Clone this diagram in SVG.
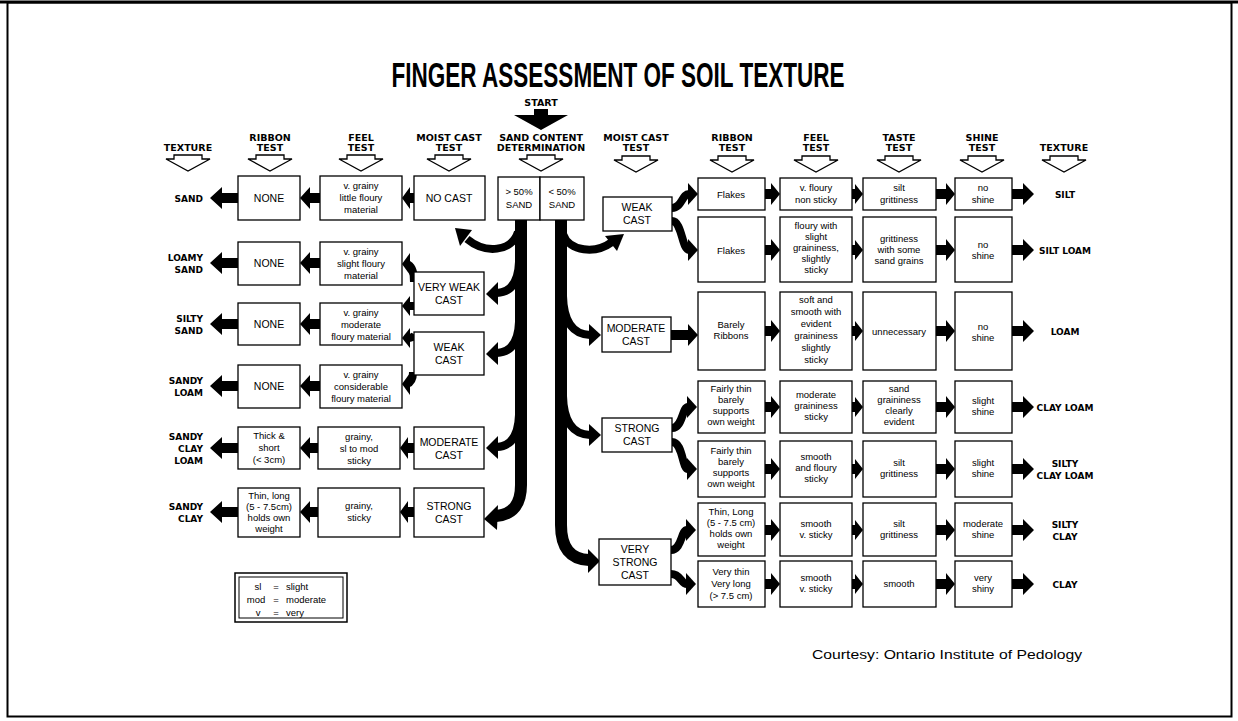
<svg xmlns="http://www.w3.org/2000/svg" xmlns:xlink="http://www.w3.org/1999/xlink" width="1238" height="721" viewBox="0 0 1238 721">
<style>
.box{fill:#fff;stroke:#000;stroke-width:1.3}
.t{font-family:"Liberation Sans",Arial,sans-serif;font-size:9.5px;text-anchor:middle;fill:#000}
.ts{font-family:"Liberation Sans",Arial,sans-serif;font-size:9.5px;text-anchor:start;fill:#000}
.c{font-family:"Liberation Sans",Arial,sans-serif;font-size:10.5px;text-anchor:middle;fill:#000}
.h{font-family:"DejaVu Sans",sans-serif;font-weight:bold;font-size:9.5px;text-anchor:middle;fill:#000}
.lb{font-family:"DejaVu Sans",sans-serif;font-weight:bold;font-size:9px;fill:#000}
.ll{text-anchor:end}
.lr{text-anchor:middle}
.blk{fill:#000}
.trunk{fill:none;stroke:#000;stroke-width:12;stroke-linecap:butt}
.br{fill:none;stroke:#000;stroke-width:8;stroke-linecap:butt}
.sc{fill:none;stroke:#000;stroke-width:8}
.hol{fill:#fff;stroke:#000;stroke-width:1.3}
</style>
<defs>
<path id="hol" d="M-14,0 H14 V4 H22 L0,16 L-22,4 H-14 Z"/>
<path id="aL1" d="M238,-5 H222 V-11 L210,0 L222,11 V5 H238 Z"/>
<path id="aL2" d="M320,-5 H310 V-11 L300,0 L310,11 V5 H320 Z"/>
<path id="aL2b" d="M318,-5 H310 V-11 L300,0 L310,11 V5 H318 Z"/>
<path id="aL3" d="M414,-5 H410 V-11 L402,0 L410,11 V5 H414 Z"/>
<path id="aL3b" d="M414,-5 H408 V-11 L400,0 L408,11 V5 H414 Z"/>
<path id="aR1" d="M765,-5 H771 V-11 L780,0 L771,11 V5 H765 Z"/>
<path id="aR2" d="M852,-5 H855 V-10 L863,0 L855,10 V5 H852 Z"/>
<path id="aR3" d="M936,-5 H946 V-11 L955,0 L946,11 V5 H936 Z"/>
<path id="aR4" d="M1012,-5 H1023 V-11 L1034,0 L1023,11 V5 H1012 Z"/>
<path id="aM" d="M671,-5 H688 V-11 L698,0 L688,11 V5 H671 Z"/>
</defs>
<rect x="0" y="0" width="1238" height="721" fill="#fff"/>
<rect x="7.5" y="2.5" width="1224" height="714" fill="none" stroke="#000" stroke-width="2"/>
<line x1="0" y1="2" x2="1238" y2="2" stroke="#000" stroke-width="3"/>

<text x="618" y="87" font-family="'Liberation Sans',Arial,sans-serif" font-weight="bold" font-size="35" text-anchor="middle" textLength="453" lengthAdjust="spacingAndGlyphs">FINGER ASSESSMENT OF SOIL TEXTURE</text>

<g id="start">
<text class="h" x="541" y="106">START</text>
<path class="blk" d="M534,109 H548 V115 H568 L541,130 L514,115 H534 Z"/>
</g>

<g id="headers">
<text class="h" x="188" y="151">TEXTURE</text>
<text class="h" x="270" y="141">RIBBON</text><text class="h" x="270" y="151">TEST</text>
<text class="h" x="361" y="141">FEEL</text><text class="h" x="361" y="151">TEST</text>
<text class="h" x="449" y="141">MOIST CAST</text><text class="h" x="449" y="151">TEST</text>
<text class="h" x="541" y="141">SAND CONTENT</text><text class="h" x="541" y="151">DETERMINATION</text>
<text class="h" x="636" y="141">MOIST CAST</text><text class="h" x="636" y="151">TEST</text>
<text class="h" x="732" y="141">RIBBON</text><text class="h" x="732" y="151">TEST</text>
<text class="h" x="816" y="141">FEEL</text><text class="h" x="816" y="151">TEST</text>
<text class="h" x="899" y="141">TASTE</text><text class="h" x="899" y="151">TEST</text>
<text class="h" x="982" y="141">SHINE</text><text class="h" x="982" y="151">TEST</text>
<text class="h" x="1064" y="151">TEXTURE</text>
<use href="#hol" class="hol" x="188" y="155"/>
<use href="#hol" class="hol" x="270" y="155"/>
<use href="#hol" class="hol" x="361" y="155"/>
<use href="#hol" class="hol" x="449" y="155"/>
<use href="#hol" class="hol" x="541" y="155"/>
<use href="#hol" class="hol" x="636" y="156"/>
<use href="#hol" class="hol" x="732" y="156"/>
<use href="#hol" class="hol" x="816" y="156"/>
<use href="#hol" class="hol" x="899" y="156"/>
<use href="#hol" class="hol" x="982" y="156"/>
<use href="#hol" class="hol" x="1064" y="156"/>
</g>

<g id="connectors">
<!-- left trunk -->
<path class="trunk" d="M521,220 V485 Q521,514 496,516"/>
<polygon class="blk" points="484,519 498,505 497,530"/>
<path class="br" d="M518,232 C512,252 485,254 467,239"/>
<polygon class="blk" points="455,228 472,230 460,246"/>
<path class="br" d="M519,262 Q518,292 497,293"/>
<polygon class="blk" points="486,294 498,282 498,305"/>
<path class="br" d="M519,322 Q518,352 497,353"/>
<polygon class="blk" points="486,354 498,342 498,365"/>
<path class="br" d="M519,415 Q518,446 497,447"/>
<polygon class="blk" points="486,448 498,436 498,459"/>
<!-- right trunk -->
<path class="trunk" d="M561,220 V525 Q561,559 589,560"/>
<polygon class="blk" points="600,561 588,549 588,573"/>
<path class="br" d="M563,234 C569,252 596,254 612,242"/>
<polygon class="blk" points="624,234 617,251 605,236"/>
<path class="br" d="M563,296 Q564,334 590,335"/>
<polygon class="blk" points="601,335 589,324 589,346"/>
<path class="br" d="M563,396 Q564,434 590,435"/>
<polygon class="blk" points="601,435 589,424 589,446"/>
<!-- left row arrows -->
<use href="#aL1" class="blk" y="198"/><use href="#aL1" class="blk" y="263"/><use href="#aL1" class="blk" y="324"/>
<use href="#aL1" class="blk" y="386"/><use href="#aL1" class="blk" y="448"/><use href="#aL1" class="blk" y="512"/>
<use href="#aL2" class="blk" y="198"/><use href="#aL2" class="blk" y="263"/><use href="#aL2" class="blk" y="324"/>
<use href="#aL2" class="blk" y="386"/><use href="#aL2b" class="blk" y="448"/><use href="#aL2b" class="blk" y="512"/>
<use href="#aL3" class="blk" y="198"/><use href="#aL3b" class="blk" y="448"/><use href="#aL3b" class="blk" y="512"/>
<!-- small left arrows from very weak / weak cast -->
<path class="sc" d="M407,264 Q414,266 414,282" stroke-width="6"/>
<polygon class="blk" points="402,264 410,253 410,275"/>
<path class="sc" d="M407,306 H415" stroke-width="7"/>
<polygon class="blk" points="402,306 410,296 410,316"/>
<path class="sc" d="M407,338 Q413,338 415,335" stroke-width="7"/>
<polygon class="blk" points="402,338 410,328 410,348"/>
<path class="sc" d="M407,384 Q413,382 413,372" stroke-width="6"/>
<polygon class="blk" points="402,384 410,373 410,395"/>
<!-- right S-curves -->
<path class="sc" d="M672,208 C682,208 682,194 689,194"/>
<polygon class="blk" points="688,183 698,194 688,205"/>
<path class="sc" d="M672,221 C682,221 682,250 689,250"/>
<polygon class="blk" points="688,239 698,250 688,261"/>
<use href="#aM" class="blk" y="335"/>
<path class="sc" d="M672,428 C683,428 682,407 688,407"/>
<polygon class="blk" points="687,396 697,407 687,418"/>
<path class="sc" d="M672,442 C683,442 682,469 688,469"/>
<polygon class="blk" points="687,458 697,469 687,480"/>
<path class="sc" d="M671,550 C682,550 681,530 687,530"/>
<polygon class="blk" points="686,519 696,530 686,541"/>
<path class="sc" d="M671,574 C681,574 681,584 687,584"/>
<polygon class="blk" points="686,573 696,584 686,595"/>
<!-- right row arrows -->
<use href="#aR1" class="blk" y="194"/><use href="#aR1" class="blk" y="250"/><use href="#aR1" class="blk" y="331"/><use href="#aR1" class="blk" y="407"/><use href="#aR1" class="blk" y="469"/><use href="#aR1" class="blk" y="530"/><use href="#aR1" class="blk" y="584"/>
<use href="#aR2" class="blk" y="194"/><use href="#aR2" class="blk" y="250"/><use href="#aR2" class="blk" y="331"/><use href="#aR2" class="blk" y="407"/><use href="#aR2" class="blk" y="469"/><use href="#aR2" class="blk" y="530"/><use href="#aR2" class="blk" y="584"/>
<use href="#aR3" class="blk" y="194"/><use href="#aR3" class="blk" y="250"/><use href="#aR3" class="blk" y="331"/><use href="#aR3" class="blk" y="407"/><use href="#aR3" class="blk" y="469"/><use href="#aR3" class="blk" y="530"/><use href="#aR3" class="blk" y="584"/>
<use href="#aR4" class="blk" y="194"/><use href="#aR4" class="blk" y="250"/><use href="#aR4" class="blk" y="331"/><use href="#aR4" class="blk" y="407"/><use href="#aR4" class="blk" y="469"/><use href="#aR4" class="blk" y="530"/><use href="#aR4" class="blk" y="584"/>
</g>

<!-- sand content -->
<g id="gt50"><rect class="box" x="498" y="177" width="42" height="43"/><text class="t" x="519" y="195">&gt; 50%</text><text class="t" x="519" y="208">SAND</text></g>
<g id="lt50"><rect class="box" x="540" y="177" width="44" height="43"/><text class="t" x="562" y="195">&lt; 50%</text><text class="t" x="562" y="208">SAND</text></g>

<!-- left textures -->
<g id="tex-sand"><text class="lb ll" x="203" y="202">SAND</text></g>
<g id="tex-loamysand"><text class="lb ll" x="203" y="261">LOAMY</text><text class="lb ll" x="203" y="273">SAND</text></g>
<g id="tex-siltysand"><text class="lb ll" x="203" y="322">SILTY</text><text class="lb ll" x="203" y="334">SAND</text></g>
<g id="tex-sandyloam"><text class="lb ll" x="203" y="384">SANDY</text><text class="lb ll" x="203" y="396">LOAM</text></g>
<g id="tex-sandyclayloam"><text class="lb ll" x="203" y="440">SANDY</text><text class="lb ll" x="203" y="452">CLAY</text><text class="lb ll" x="203" y="464">LOAM</text></g>
<g id="tex-sandyclay"><text class="lb ll" x="203" y="510">SANDY</text><text class="lb ll" x="203" y="522">CLAY</text></g>

<!-- left ribbon -->
<g id="lrib1"><rect class="box" x="238" y="176" width="62" height="44"/><text class="c" x="269" y="202">NONE</text></g>
<g id="lrib2"><rect class="box" x="238" y="242" width="62" height="43"/><text class="c" x="269" y="267">NONE</text></g>
<g id="lrib3"><rect class="box" x="238" y="303" width="62" height="42"/><text class="c" x="269" y="328">NONE</text></g>
<g id="lrib4"><rect class="box" x="238" y="365" width="62" height="43"/><text class="c" x="269" y="390">NONE</text></g>
<g id="lrib5"><rect class="box" x="238" y="427" width="62" height="42"/><text class="t" x="269" y="439">Thick &amp;</text><text class="t" x="269" y="451">short</text><text class="t" x="269" y="463">(&lt; 3cm)</text></g>
<g id="lrib6"><rect class="box" x="238" y="488" width="62" height="49"/><text class="t" x="269" y="499">Thin, long</text><text class="t" x="269" y="510">(5 - 7.5cm)</text><text class="t" x="269" y="521">holds own</text><text class="t" x="269" y="532">weight</text></g>

<!-- left feel -->
<g id="lfeel1"><rect class="box" x="320" y="176" width="82" height="44"/><text class="t" x="361" y="189">v. grainy</text><text class="t" x="361" y="201">little floury</text><text class="t" x="361" y="213">material</text></g>
<g id="lfeel2"><rect class="box" x="320" y="242" width="82" height="43"/><text class="t" x="361" y="255">v. grainy</text><text class="t" x="361" y="267">slight floury</text><text class="t" x="361" y="279">material</text></g>
<g id="lfeel3"><rect class="box" x="320" y="303" width="82" height="42"/><text class="t" x="361" y="316">v. grainy</text><text class="t" x="361" y="328">moderate</text><text class="t" x="361" y="340">floury material</text></g>
<g id="lfeel4"><rect class="box" x="320" y="365" width="82" height="43"/><text class="t" x="361" y="378">v. grainy</text><text class="t" x="361" y="390">considerable</text><text class="t" x="361" y="402">floury material</text></g>
<g id="lfeel5"><rect class="box" x="318" y="427" width="82" height="42"/><text class="t" x="359" y="440">grainy,</text><text class="t" x="359" y="452">sl to mod</text><text class="t" x="359" y="464">sticky</text></g>
<g id="lfeel6"><rect class="box" x="318" y="488" width="82" height="49"/><text class="t" x="359" y="509">grainy,</text><text class="t" x="359" y="521">sticky</text></g>

<!-- left moist cast -->
<g id="nocast"><rect class="box" x="414" y="176" width="71" height="44"/><text class="c" x="449" y="202">NO CAST</text></g>
<g id="vweak"><rect class="box" x="414" y="272" width="70" height="43"/><text class="c" x="449" y="291">VERY WEAK</text><text class="c" x="449" y="304">CAST</text></g>
<g id="weakL"><rect class="box" x="414" y="332" width="70" height="43"/><text class="c" x="449" y="351">WEAK</text><text class="c" x="449" y="364">CAST</text></g>
<g id="modL"><rect class="box" x="414" y="427" width="70" height="42"/><text class="c" x="449" y="446">MODERATE</text><text class="c" x="449" y="459">CAST</text></g>
<g id="strongL"><rect class="box" x="414" y="488" width="70" height="49"/><text class="c" x="449" y="510">STRONG</text><text class="c" x="449" y="523">CAST</text></g>

<!-- right moist cast -->
<g id="weakR"><rect class="box" x="603" y="197" width="69" height="34"/><text class="c" x="637" y="211">WEAK</text><text class="c" x="637" y="224">CAST</text></g>
<g id="modR"><rect class="box" x="602" y="317" width="69" height="35"/><text class="c" x="636" y="332">MODERATE</text><text class="c" x="636" y="345">CAST</text></g>
<g id="strongR"><rect class="box" x="602" y="418" width="70" height="34"/><text class="c" x="637" y="432">STRONG</text><text class="c" x="637" y="445">CAST</text></g>
<g id="vstrongR"><rect class="box" x="599" y="539" width="72" height="46"/><text class="c" x="635" y="553">VERY</text><text class="c" x="635" y="566">STRONG</text><text class="c" x="635" y="579">CAST</text></g>

<!-- right ribbon -->
<g id="rrib1"><rect class="box" x="698" y="178" width="67" height="32"/><text class="t" x="731" y="198">Flakes</text></g>
<g id="rrib2"><rect class="box" x="698" y="217" width="67" height="65"/><text class="t" x="731" y="254">Flakes</text></g>
<g id="rrib3"><rect class="box" x="698" y="292" width="67" height="78"/><text class="t" x="731" y="328">Barely</text><text class="t" x="731" y="339">Ribbons</text></g>
<g id="rrib4"><rect class="box" x="698" y="381" width="67" height="52"/><text class="t" x="731" y="392">Fairly thin</text><text class="t" x="731" y="403">barely</text><text class="t" x="731" y="414">supports</text><text class="t" x="731" y="425">own weight</text></g>
<g id="rrib5"><rect class="box" x="698" y="441" width="67" height="56"/><text class="t" x="731" y="454">Fairly thin</text><text class="t" x="731" y="465">barely</text><text class="t" x="731" y="476">supports</text><text class="t" x="731" y="487">own weight</text></g>
<g id="rrib6"><rect class="box" x="698" y="503" width="67" height="53"/><text class="t" x="731" y="515">Thin, Long</text><text class="t" x="731" y="526">(5 - 7.5 cm)</text><text class="t" x="731" y="537">holds own</text><text class="t" x="731" y="548">weight</text></g>
<g id="rrib7"><rect class="box" x="698" y="561" width="67" height="46"/><text class="t" x="731" y="575">Very thin</text><text class="t" x="731" y="587">Very long</text><text class="t" x="731" y="599">(&gt; 7.5 cm)</text></g>

<!-- right feel -->
<g id="rfeel1"><rect class="box" x="780" y="178" width="72" height="32"/><text class="t" x="816" y="191">v. floury</text><text class="t" x="816" y="203">non sticky</text></g>
<g id="rfeel2"><rect class="box" x="780" y="217" width="72" height="65"/><text class="t" x="816" y="229">floury with</text><text class="t" x="816" y="240">slight</text><text class="t" x="816" y="251">graininess,</text><text class="t" x="816" y="262">slightly</text><text class="t" x="816" y="273">sticky</text></g>
<g id="rfeel3"><rect class="box" x="780" y="292" width="72" height="78"/><text class="t" x="816" y="303">soft and</text><text class="t" x="816" y="315">smooth with</text><text class="t" x="816" y="327">evident</text><text class="t" x="816" y="339">graininess</text><text class="t" x="816" y="351">slightly</text><text class="t" x="816" y="363">sticky</text></g>
<g id="rfeel4"><rect class="box" x="780" y="381" width="72" height="52"/><text class="t" x="816" y="398">moderate</text><text class="t" x="816" y="409">graininess</text><text class="t" x="816" y="420">sticky</text></g>
<g id="rfeel5"><rect class="box" x="780" y="441" width="72" height="56"/><text class="t" x="816" y="460">smooth</text><text class="t" x="816" y="471">and floury</text><text class="t" x="816" y="482">sticky</text></g>
<g id="rfeel6"><rect class="box" x="780" y="503" width="72" height="53"/><text class="t" x="816" y="527">smooth</text><text class="t" x="816" y="538">v. sticky</text></g>
<g id="rfeel7"><rect class="box" x="780" y="561" width="72" height="46"/><text class="t" x="816" y="581">smooth</text><text class="t" x="816" y="592">v. sticky</text></g>

<!-- right taste -->
<g id="taste1"><rect class="box" x="863" y="178" width="73" height="32"/><text class="t" x="899" y="191">silt</text><text class="t" x="899" y="203">grittiness</text></g>
<g id="taste2"><rect class="box" x="863" y="217" width="73" height="65"/><text class="t" x="899" y="242">grittiness</text><text class="t" x="899" y="253">with some</text><text class="t" x="899" y="264">sand grains</text></g>
<g id="taste3"><rect class="box" x="863" y="292" width="73" height="78"/><text class="t" x="899" y="335">unnecessary</text></g>
<g id="taste4"><rect class="box" x="863" y="381" width="73" height="52"/><text class="t" x="899" y="392">sand</text><text class="t" x="899" y="403">graininess</text><text class="t" x="899" y="414">clearly</text><text class="t" x="899" y="425">evident</text></g>
<g id="taste5"><rect class="box" x="863" y="441" width="73" height="56"/><text class="t" x="899" y="466">silt</text><text class="t" x="899" y="477">grittiness</text></g>
<g id="taste6"><rect class="box" x="863" y="503" width="73" height="53"/><text class="t" x="899" y="527">silt</text><text class="t" x="899" y="538">grittiness</text></g>
<g id="taste7"><rect class="box" x="863" y="561" width="73" height="46"/><text class="t" x="899" y="587">smooth</text></g>

<!-- right shine -->
<g id="shine1"><rect class="box" x="955" y="178" width="57" height="32"/><text class="t" x="983" y="191">no</text><text class="t" x="983" y="203">shine</text></g>
<g id="shine2"><rect class="box" x="955" y="217" width="57" height="65"/><text class="t" x="983" y="248">no</text><text class="t" x="983" y="259">shine</text></g>
<g id="shine3"><rect class="box" x="955" y="292" width="57" height="78"/><text class="t" x="983" y="330">no</text><text class="t" x="983" y="341">shine</text></g>
<g id="shine4"><rect class="box" x="955" y="381" width="57" height="52"/><text class="t" x="983" y="404">slight</text><text class="t" x="983" y="415">shine</text></g>
<g id="shine5"><rect class="box" x="955" y="441" width="57" height="56"/><text class="t" x="983" y="466">slight</text><text class="t" x="983" y="477">shine</text></g>
<g id="shine6"><rect class="box" x="955" y="503" width="57" height="53"/><text class="t" x="983" y="527">moderate</text><text class="t" x="983" y="538">shine</text></g>
<g id="shine7"><rect class="box" x="955" y="561" width="57" height="46"/><text class="t" x="983" y="581">very</text><text class="t" x="983" y="592">shiny</text></g>

<!-- right textures -->
<g id="tex-silt"><text class="lb lr" x="1065" y="198">SILT</text></g>
<g id="tex-siltloam"><text class="lb lr" x="1065" y="254">SILT LOAM</text></g>
<g id="tex-loam"><text class="lb lr" x="1065" y="335">LOAM</text></g>
<g id="tex-clayloam"><text class="lb lr" x="1065" y="411">CLAY LOAM</text></g>
<g id="tex-siltyclayloam"><text class="lb lr" x="1065" y="467">SILTY</text><text class="lb lr" x="1065" y="479">CLAY LOAM</text></g>
<g id="tex-siltyclay"><text class="lb lr" x="1065" y="528">SILTY</text><text class="lb lr" x="1065" y="540">CLAY</text></g>
<g id="tex-clay"><text class="lb lr" x="1065" y="588">CLAY</text></g>

<!-- legend -->
<g id="legend">
<rect x="235" y="573" width="112" height="49" fill="#fff" stroke="#000" stroke-width="1.5"/>
<rect x="239" y="577" width="104" height="41" fill="none" stroke="#000" stroke-width="1"/>
<text class="t" x="258" y="590">sl</text><text class="t" x="276" y="590">=</text><text class="ts" x="286" y="590">slight</text>
<text class="t" x="256" y="603">mod</text><text class="t" x="276" y="603">=</text><text class="ts" x="286" y="603">moderate</text>
<text class="t" x="258" y="616">v</text><text class="t" x="276" y="616">=</text><text class="ts" x="286" y="616">very</text>
</g>

<text x="812" y="659" font-family="'Liberation Sans',Arial,sans-serif" font-size="12.5" textLength="270" lengthAdjust="spacingAndGlyphs">Courtesy: Ontario Institute of Pedology</text>
</svg>
